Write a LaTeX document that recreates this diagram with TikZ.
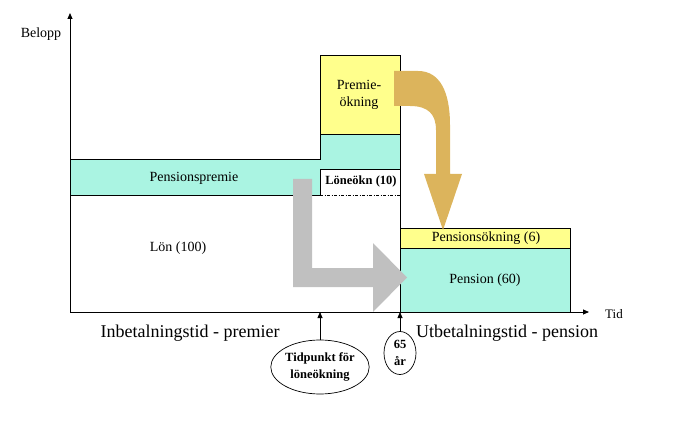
\documentclass[tikz,border=0pt]{standalone}
\usepackage{fontspec}
\setmainfont{Liberation Serif}
\usetikzlibrary{arrows.meta,shapes.geometric}
\definecolor{cyanfill}{RGB}{170,244,226}
\definecolor{yellowfill}{RGB}{255,255,140}
\definecolor{grayarrow}{RGB}{192,192,192}
\definecolor{goldarrow}{RGB}{220,180,92}
\tikzset{
  edge/.style={line width=0.8pt, black},
  axisline/.style={line width=0.8pt, -{Triangle[length=6pt,width=5pt]}},
  uparrow/.style={line width=0.8pt, -{Triangle[length=6pt,width=5pt]}},
  lbl/.style={font=\fontsize{14}{17}\selectfont, align=center, inner sep=0pt},
  biglbl/.style={font=\fontsize{18}{21}\selectfont, inner sep=0pt},
  boldlbl/.style={font=\bfseries\fontsize{12.5}{17}\selectfont, align=center, inner sep=0pt},
  oval/.style={ellipse, draw, line width=0.7pt, inner sep=0pt, align=center, font=\bfseries\fontsize{12.5}{17}\selectfont}
}
\begin{document}
\begin{tikzpicture}[x=1pt,y=-1pt]
\useasboundingbox (0,0) rectangle (675,425);
% fills
\fill[cyanfill] (70,159) rectangle (320,195);
\fill[cyanfill] (320,134) rectangle (400,169);
\fill[yellowfill] (320,55) rectangle (400,134);
\fill[white] (320,169) rectangle (400,195);
\fill[yellowfill] (400,228) rectangle (570,248);
\fill[cyanfill] (400,248) rectangle (570,312);
% coordinates
\coordinate (O) at (70,312);
\coordinate (ytop) at (70,13);
\coordinate (xend) at (589,312);
\coordinate (t1) at (320,312);
\coordinate (t2) at (400,312);
% outlines
\draw[edge] (70,159) -- (320,159) -- (320,55) -- (400,55) -- (400,312);
\draw[edge] (320,134) -- (400,134);
\draw[edge] (70,195) -- (320,195);
\draw[edge, line width=0.6pt, dash pattern=on 3pt off 1.5pt on 1pt off 1.5pt] (320,195) -- (400,195);
\draw[edge] (320,195) -- (320,169) -- (400,169);
\draw[edge] (400,228) rectangle (570,312);
\draw[edge] (400,248) -- (570,248);
% gray L arrow
\fill[grayarrow] (293,179) -- (312,179) -- (312,268) -- (373,268) -- (373,243)
  -- (407,277.5) -- (373,312) -- (373,287) -- (293,287) -- cycle;
% gold curved arrow
\fill[goldarrow] (394,71) -- (418,71) .. controls (440,71) and (450,92) .. (450,125)
  -- (450,174) -- (462,174) -- (443,230) -- (424,174) -- (436,174) -- (436,130)
  .. controls (436,114) and (428,106) .. (410,106) -- (394,106) -- cycle;
% axes
\draw[axisline] (O) -- (ytop);
\draw[axisline] (O) -- (xend);
% labels
\node[lbl] (belopp) at (41,34) {Belopp};
\node[lbl, font=\fontsize{13}{15}\selectfont] (tid) at (614,314) {Tid};
\node[lbl] (pp) at (194,178) {Pensionspremie};
\node[lbl] (lon) at (178,248) {Lön (100)};
\node[lbl] (po) at (359,95) {Premie-\\ökning};
\node[boldlbl] (lok) at (361,181) {Löneökn (10)};
\node[lbl] (pok) at (486,238) {Pensionsökning (6)};
\node[lbl] (pen) at (485,280) {Pension (60)};
\node[biglbl] (inb) at (190,333) {Inbetalningstid - premier};
\node[biglbl] (utb) at (507,333) {Utbetalningstid - pension};
% ovals
\node[oval, minimum width=98pt, minimum height=54pt] (tp) at (320,367) {Tidpunkt för\\löneökning};
\node[oval, minimum width=32pt, minimum height=43pt] (age) at (400,353) {65\\år};
\draw[uparrow] (tp.north) -- (t1);
\draw[uparrow] (age.north) -- (t2);
\end{tikzpicture}
\end{document}
